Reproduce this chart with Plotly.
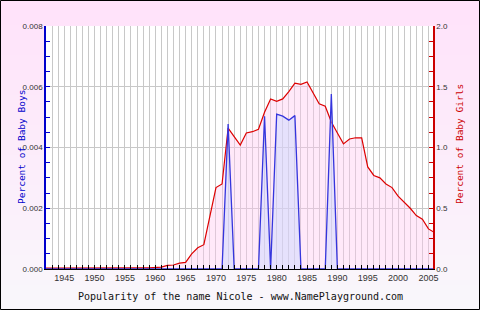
import plotly.graph_objects as go

years = list(range(1942, 2007))
girls_pct = [0.008, 0.008, 0.005, 0.006, 0.007, 0.005, 0.003, 0.004, 0.006, 0.007,
             0.007, 0.007, 0.007, 0.008, 0.008, 0.008, 0.009, 0.010, 0.013, 0.015,
             0.030, 0.033, 0.048, 0.055, 0.125, 0.175, 0.20, 0.45, 0.67, 0.70,
             1.16, 1.09, 1.02, 1.12, 1.13, 1.15, 1.29, 1.40, 1.38, 1.40,
             1.46, 1.53, 1.52, 1.54, 1.45, 1.36, 1.34, 1.21, 1.12, 1.03,
             1.07, 1.08, 1.08, 0.84, 0.77, 0.75, 0.70, 0.67, 0.60, 0.55,
             0.50, 0.44, 0.41, 0.33, 0.30]
boys_pct = [0.0] * len(years)
boys_known = {1972: 0.00477, 1978: 0.00503, 1980: 0.0051, 1981: 0.00503,
              1982: 0.0049, 1983: 0.00505, 1989: 0.00576}
for yr, v in boys_known.items():
    boys_pct[years.index(yr)] = v

x_tick_years = list(range(1945, 2006, 5))
boys_ticks = [0.0, 0.002, 0.004, 0.006, 0.008]
girls_ticks = [0.0, 0.5, 1.0, 1.5, 2.0]
title_text = "Popularity of the name Nicole - www.NamePlayground.com"

W, H = 480, 310
L, R, T, B = 46, 47, 26, 41
pw, ph = W - L - R, H - T - B

def px(x):
    return (x - L) / pw

def py(y):
    return (H - B - y) / ph

fig = go.Figure()
fig.add_trace(go.Scatter(x=years, y=girls_pct, mode="lines", yaxis="y",
                         line=dict(color="#dd0000", width=1.2),
                         fill="tozeroy", fillcolor="rgba(255,200,240,0.4)",
                         hoverinfo="skip"))
fig.add_trace(go.Scatter(x=years, y=boys_pct, mode="lines", yaxis="y2",
                         line=dict(color="#3535dd", width=1.3),
                         fill="tozeroy", fillcolor="rgba(200,215,255,0.45)",
                         hoverinfo="skip"))

shapes = []
n = 62
top = (255, 226, 250)
bot = (249, 247, 251)
for i in range(n):
    t = i / (n - 1)
    c = tuple(round(top[k] + (bot[k] - top[k]) * t) for k in range(3))
    y0 = i * H / n
    y1 = (i + 1) * H / n + 0.5
    shapes.append(dict(type="rect", xref="paper", yref="paper", layer="below",
                       x0=px(0), x1=px(W), y0=py(y1), y1=py(y0),
                       fillcolor="rgb(%d,%d,%d)" % c, line=dict(width=0)))
shapes.append(dict(type="rect", xref="paper", yref="paper", layer="below",
                   x0=0, x1=1, y0=0, y1=1, fillcolor="white", line=dict(width=0)))
shapes.append(dict(type="rect", xref="paper", yref="paper", layer="above",
                   x0=px(0.5), x1=px(W - 0.5), y0=py(H - 0.5), y1=py(0.5),
                   line=dict(color="black", width=1)))

annotations = [
    dict(text=title_text, xref="paper", yref="paper", x=px(240), y=py(296),
         showarrow=False, xanchor="center", yanchor="middle",
         font=dict(family="DejaVu Sans Mono", size=10, color="#111111")),
    dict(text="Percent of Baby Boys", xref="paper", yref="paper", x=px(21), y=py(147),
         showarrow=False, xanchor="center", yanchor="middle", textangle=-90,
         font=dict(family="DejaVu Sans Mono", size=9.5, color="#0000cc")),
    dict(text="Percent of Baby Girls", xref="paper", yref="paper", x=px(459), y=py(144),
         showarrow=False, xanchor="center", yanchor="middle", textangle=-90,
         font=dict(family="DejaVu Sans Mono", size=9.5, color="#cc0000")),
]

fig.update_layout(
    width=W, height=H, margin=dict(l=L, r=R, t=T, b=B),
    paper_bgcolor="white", plot_bgcolor="white", showlegend=False,
    shapes=shapes, annotations=annotations,
    xaxis=dict(range=[1942, 2005.75], tickvals=x_tick_years, ticks="inside", ticklen=4,
               tickcolor="black", showline=True, linecolor="black", linewidth=1,
               showgrid=True, gridcolor="#c8c8c8", gridwidth=1, zeroline=False,
               tickfont=dict(family="Liberation Sans", size=9, color="#333333"),
               minor=dict(dtick=1, ticks="inside", ticklen=4, tickcolor="black",
                          showgrid=True, gridcolor="#c8c8c8", gridwidth=1)),
    yaxis=dict(range=[0, 2.0], side="right", tickvals=girls_ticks, tickformat=".1f",
               ticks="inside", ticklen=4, tickcolor="#cc0000", showline=True,
               linecolor="#cc0000", linewidth=1.5, showgrid=True, gridcolor="#c8c8c8",
               zeroline=False,
               tickfont=dict(family="Liberation Sans", size=8, color="#333333"),
               minor=dict(dtick=0.125, ticks="inside", ticklen=4, tickcolor="#cc0000",
                          showgrid=False)),
    yaxis2=dict(range=[0, 0.008], side="left", overlaying="y", tickvals=boys_ticks,
                tickformat=".3f", ticks="inside", ticklen=4, tickcolor="#0000cc",
                showline=True, linecolor="#0000cc", linewidth=1.5, showgrid=False,
                zeroline=False,
                tickfont=dict(family="Liberation Sans", size=8, color="#333333"),
                minor=dict(dtick=0.0005, ticks="inside", ticklen=4, tickcolor="#0000cc",
                           showgrid=False)),
)

fig.write_html("out.html")
